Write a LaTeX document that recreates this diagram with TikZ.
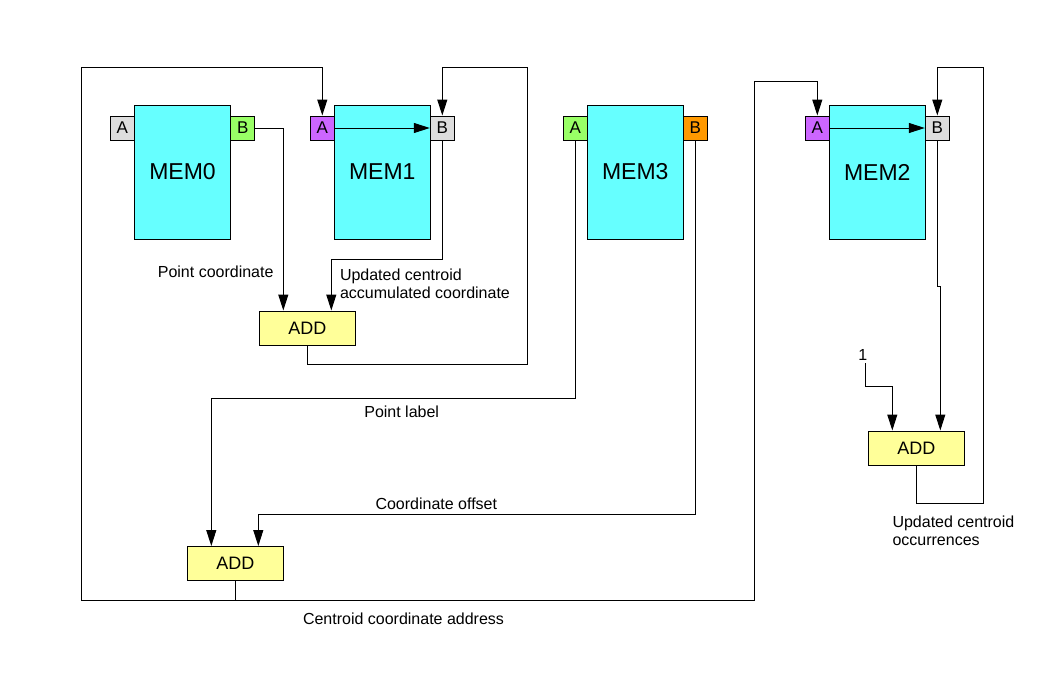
\documentclass[tikz,border=0pt]{standalone}
\usepackage{fontspec}
\setmainfont{Liberation Sans}
\usetikzlibrary{arrows.meta}
\definecolor{memcyan}{HTML}{66FFFF}
\definecolor{portgrey}{HTML}{DDDDDD}
\definecolor{portgreen}{HTML}{99FF66}
\definecolor{portpurple}{HTML}{CC66FF}
\definecolor{portorange}{HTML}{FF9900}
\definecolor{addyellow}{HTML}{FFFF99}
\begin{document}
\begin{tikzpicture}[x=1pt,y=-1pt,line width=1pt,
  mem/.style={draw,fill=memcyan,minimum width=96pt,minimum height=134pt,inner sep=0pt,font=\fontsize{23}{26}\selectfont},
  port/.style={draw,minimum size=24pt,inner sep=0pt,font=\fontsize{17}{19}\selectfont},
  adder/.style={draw,fill=addyellow,minimum width=96pt,minimum height=34pt,inner sep=0pt,font=\fontsize{18}{20}\selectfont},
  lbl/.style={font=\fontsize{16}{18.3}\selectfont,inner sep=0pt,align=left},
  feed/.style={-{Triangle[length=16pt,width=10pt]}}]
  \useasboundingbox[fill=white] (0,0) rectangle (1056,672);
  % memories
  \node[mem] (mem0) at (182.5,172) {MEM0};
  \node[mem] (mem1) at (382.3,172) {MEM1};
  \node[mem] (mem3) at (635.3,172) {MEM3};
  \node[mem] (mem2) at (877.3,172) {MEM2};
  \node[port,fill=portgrey] (mem0a) at (122.3,128) {A};
  \node[port,fill=portgreen] (mem0b) at (242.7,128) {B};
  \node[port,fill=portpurple] (mem1a) at (322.3,128) {A};
  \node[port,fill=portgrey] (mem1b) at (442.3,128) {B};
  \node[port,fill=portgreen] (mem3a) at (575.3,128) {A};
  \node[port,fill=portorange] (mem3b) at (695.3,128) {B};
  \node[port,fill=portpurple] (mem2a) at (817.3,128) {A};
  \node[port,fill=portgrey] (mem2b) at (937.3,128) {B};
  % adders
  \node[adder] (add1) at (307.3,328) {ADD};
  \node[adder] (add2) at (235.3,563.5) {ADD};
  \node[adder] (add3) at (916.3,448) {ADD};
  \node[lbl] (one) at (862.7,355) {1};
  \coordinate (loop1) at (527.3,67.7);
  \coordinate (loop2) at (983.3,67.7);
  \coordinate (busl) at (81.7,67.7);
  \coordinate (busr) at (754.3,81.3);
  % connectors
  \draw[feed] (mem1a.east) -- (mem1b.west);
  \draw[feed] (mem2a.east) -- (mem2b.west);
  \draw[feed] (mem0b.east) -| ([xshift=-24pt]add1.north);
  \draw[feed] (mem1b.south) -- ++(0,119) -| ([xshift=24pt]add1.north);
  \draw[feed] (add1.south) -- ++(0,19) -| (loop1) -| (mem1b.north);
  \draw[feed] (add2.south) -- ++(0,19) -| (busl) -| (mem1a.north);
  \draw[feed] (add2.south) -- ++(0,19) -| (busr) -| (mem2a.north);
  \draw[feed] (mem3a.south) -- ++(0,258) -| ([xshift=-24pt]add2.north);
  \draw[feed] (mem3b.south) -- ++(0,374) -| ([xshift=23pt]add2.north);
  \draw[feed] (mem2b.south) -- ++(0,146) -| ([xshift=24pt]add3.north);
  \draw[feed] (one.south) ++(2.6,2) -- ++(0,23) -| ([xshift=-24pt]add3.north);
  \draw[feed] (add3.south) -- ++(0,38) -| (loop2) -| (mem2b.north);
  % labels
  \node[lbl,anchor=east] (ptcoord) at (274,272) {Point coordinate};
  \node[lbl,anchor=west] (updacc) at (339.5,284) {Updated centroid\\accumulated coordinate};
  \node[lbl] (ptlabel) at (401.7,412) {Point label};
  \node[lbl] (cooff) at (436.3,504) {Coordinate offset};
  \node[lbl] (ccaddr) at (403.5,619) {Centroid coordinate address};
  \node[lbl,anchor=west] (updocc) at (892,530.5) {Updated centroid\\occurrences};
\end{tikzpicture}
\end{document}
